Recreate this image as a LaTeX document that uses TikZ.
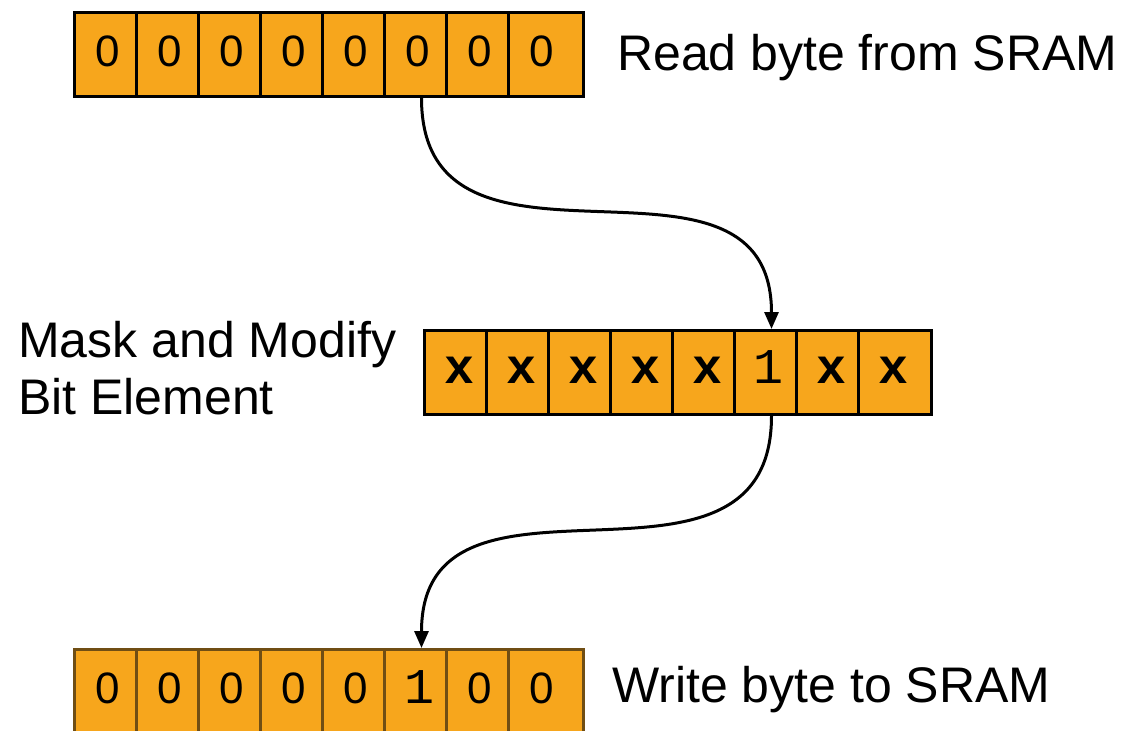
\documentclass[tikz,border=0pt]{standalone}
\usepackage{fontspec}
\setmainfont{Liberation Sans}
\newfontfamily\monofont{Liberation Mono}
\usetikzlibrary{arrows.meta}

\definecolor{bitfill}{RGB}{247,166,28}
\definecolor{bitedge}{RGB}{112,78,20}

\tikzset{
  bitcell/.style={draw=black, fill=bitfill, line width=3pt, rectangle,
    inner sep=0pt, anchor=north west, minimum height=84pt},
  brcell/.style={bitcell, draw=bitedge},
  digit/.style={anchor=base, inner sep=0pt, font=\fontsize{44}{44}\selectfont},
  xdigit/.style={anchor=base, inner sep=0pt, font=\monofont\bfseries\fontsize{50}{50}\selectfont},
  onedigit/.style={anchor=base, inner sep=0pt, font=\monofont\fontsize{50}{50}\selectfont},
  caption/.style={anchor=base west, inner sep=0pt, align=left,
    font=\fontsize{50}{57}\selectfont},
  flow/.style={line width=3pt, -{Triangle[length=17pt,width=14pt]}},
}

\begin{document}
\begin{tikzpicture}[x=1pt, y=-1pt]
  \useasboundingbox (0,0) rectangle (1130,731);
  \clip (0,0) rectangle (1130,731);

  % top row: byte read from SRAM
  \foreach \i in {1,...,7} {
    \node[bitcell, minimum width=62pt] (t\i) at ({73+62*(\i-1)},11) {};
  }
  \node[bitcell, minimum width=75pt] (t8) at (507,11) {};
  \foreach \i in {1,...,8} {
    \node[digit] (td\i) at ({107.5+62*(\i-1)},66) {0};
  }

  % middle row: masked byte
  \foreach \i in {1,...,7} {
    \node[bitcell, minimum width=62pt] (m\i) at ({423+62*(\i-1)},329) {};
  }
  \node[bitcell, minimum width=73pt] (m8) at (857,329) {};
  \foreach \i/\x in {1/459,2/521,3/583,4/645,5/707,7/831,8/893} {
    \node[xdigit] (md\i) at (\x,383) {x};
  }
  \node[onedigit] (md6) at (768,383) {1};

  % bottom row: byte written back
  \foreach \i in {1,...,7} {
    \node[brcell, minimum width=62pt] (b\i) at ({73+62*(\i-1)},648) {};
  }
  \node[brcell, minimum width=75pt] (b8) at (507,648) {};
  \foreach \i/\x in {1/107.5,2/169.5,3/231.5,4/293.5,5/355.5,7/479.5,8/541.5} {
    \node[digit] (bd\i) at (\x,703) {0};
  }
  \node[onedigit] (bd6) at (419,703) {1};

  % captions (a two-line caption sits on the baseline of its last line)
  \node[caption] (lread) at (617,70) {Read byte from SRAM};
  \node[caption] (lmask) at (18,414) {Mask and Modify\\Bit Element};
  \node[caption] (lwrite) at (612,702) {Write byte to SRAM};

  % connectors between the sixth bits
  \coordinate (a1) at ([xshift=6pt]t6.south);
  \coordinate (a2) at ([xshift=6pt]m6.north);
  \coordinate (a3) at ([xshift=6pt]m6.south);
  \coordinate (a4) at ([xshift=6pt]b6.north);
  \draw[flow] (a1) .. controls +(0,210) and +(0,-210) .. (a2);
  \draw[flow] (a3) .. controls +(0,210) and +(0,-210) .. (a4);
\end{tikzpicture}
\end{document}
